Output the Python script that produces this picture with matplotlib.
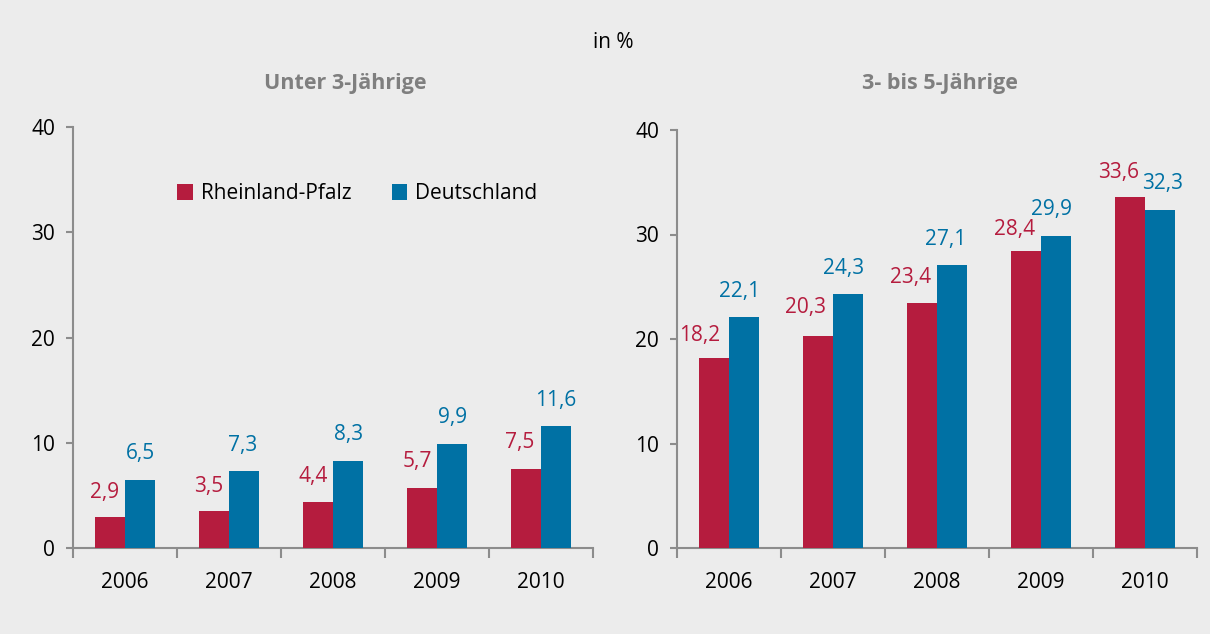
import matplotlib
matplotlib.use("Agg")
import matplotlib.pyplot as plt
import numpy as np

years = ["2006", "2007", "2008", "2009", "2010"]
rlp_u3 = [2.9, 3.5, 4.4, 5.7, 7.5]
de_u3 = [6.5, 7.3, 8.3, 9.9, 11.6]
rlp_3to5 = [18.2, 20.3, 23.4, 28.4, 33.6]
de_3to5 = [22.1, 24.3, 27.1, 29.9, 32.3]
titles = ["Unter 3-Jährige", "3- bis 5-Jährige"]
series_names = ["Rheinland-Pfalz", "Deutschland"]
yticks = [0, 10, 20, 30, 40]

RED = "#B51C3E"
BLUE = "#0071A4"
BG = "#ECECEC"
SPINE = "#8C8C8C"
FONT = "Open Sans"
FS = 15

plt.rcParams['font.family'] = [FONT, 'DejaVu Sans']

fig = plt.figure(figsize=(12.1, 6.34), dpi=100)
fig.patch.set_facecolor(BG)

ax1 = fig.add_axes([73/1210, 86/634, 520/1210, 421/634])
ax2 = fig.add_axes([677/1210, 86/634, 520/1210, 418/634])

# label offsets (pixels) relative to bar top centre: (dx, dy)
red_off = [
    [(-5, 25), (-5, 25), (-5, 25), (-5, 27), (-6, 27)],
    [(-14, 22), (-12, 28), (-11, 26), (-11, 22), (-11, 24)],
]
blue_off = [
    [(0, 26), (-1, 26), (0, 26), (0, 26), (0, 25)],
    [(-5, 26), (-5, 26), (-6, 25), (-5, 26), (2, 27)],
]

w = 0.29
x = np.arange(len(years))
for i, (ax, r, d) in enumerate([(ax1, rlp_u3, de_u3), (ax2, rlp_3to5, de_3to5)]):
    ax.set_facecolor(BG)
    ax.bar(x - w/2, r, w, color=RED, label=series_names[0], zorder=3)
    ax.bar(x + w/2, d, w, color=BLUE, label=series_names[1], zorder=3)
    for j in range(len(years)):
        ax.annotate(f"{r[j]:.1f}".replace(".", ","), (x[j] - w/2, r[j]),
                    xytext=red_off[i][j], textcoords="offset pixels",
                    ha="center", va="center", color=RED, fontsize=FS)
        ax.annotate(f"{d[j]:.1f}".replace(".", ","), (x[j] + w/2, d[j]),
                    xytext=blue_off[i][j], textcoords="offset pixels",
                    ha="center", va="center", color=BLUE, fontsize=FS)
    ax.set_xlim(-0.5, len(years) - 0.5)
    ax.set_ylim(0, 40)
    ax.set_yticks(yticks)
    ax.set_yticklabels([str(t) for t in yticks])
    ax.set_xticks(x)
    ax.set_xticklabels(years)
    ax.set_xticks(np.arange(-0.5, len(years)), minor=True)
    ax.tick_params(axis='x', which='major', length=0, pad=17, labelsize=FS)
    ax.tick_params(axis='x', which='minor', length=7, width=1.5, color=SPINE, direction='out')
    ax.tick_params(axis='y', length=5, width=1.5, color=SPINE, direction='out', pad=8, labelsize=FS)
    for s in ["top", "right"]:
        ax.spines[s].set_visible(False)
    for s in ["left", "bottom"]:
        ax.spines[s].set_color(SPINE)
        ax.spines[s].set_linewidth(1.5)

fig.text(345/1210, 1 - 84/634, titles[0], ha="center", va="center",
         fontsize=FS + 0.5, fontweight="bold", color="#7F7F7F")
fig.text(940/1210, 1 - 84/634, titles[1], ha="center", va="center",
         fontsize=FS + 0.5, fontweight="bold", color="#7F7F7F")
fig.text(613/1210, 1 - 43/634, "in %", ha="center", va="center", fontsize=FS, color="black")

leg = ax1.legend(loc="upper left", bbox_to_anchor=(96/520, 1 - 48/421), ncol=2,
                 frameon=False, fontsize=FS, handlelength=0.75, handleheight=0.75,
                 handletextpad=0.4, columnspacing=1.9, borderaxespad=0)

fig.savefig("out.png", dpi=100, facecolor=BG)
